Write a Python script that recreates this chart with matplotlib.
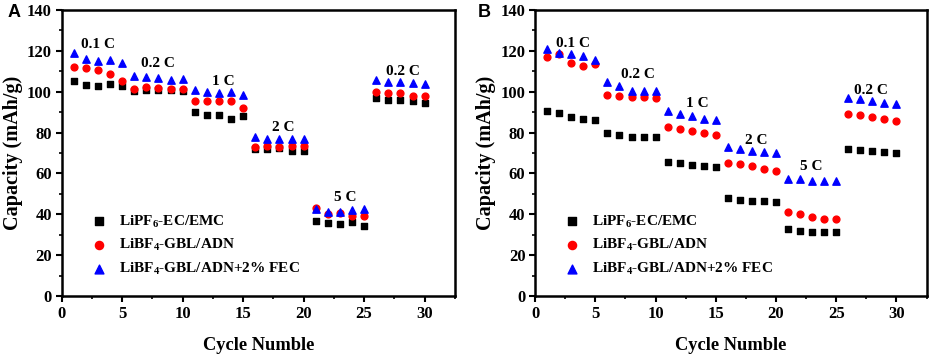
import numpy as np
import matplotlib
matplotlib.use('Agg')
import matplotlib.pyplot as plt
from matplotlib.ticker import MultipleLocator

plt.rcParams['font.family'] = ['Liberation Serif', 'DejaVu Serif']
plt.rcParams['font.weight'] = 'bold'
plt.rcParams['mathtext.fontset'] = 'custom'
plt.rcParams['mathtext.rm'] = 'Liberation Serif:bold'
plt.rcParams['mathtext.it'] = 'Liberation Serif:bold'
plt.rcParams['mathtext.bf'] = 'Liberation Serif:bold'

cycles = np.arange(1, 31)

# panel A
a_pf6 = [105.3, 103.2, 103.0, 104.0, 103.0,
         100.5, 100.8, 100.8, 100.6, 100.4,
         89.9, 88.6, 88.6, 86.8, 88.0,
         71.8, 71.8, 72.6, 71.1, 71.0,
         36.9, 35.9, 35.4, 36.4, 34.3,
         96.8, 95.8, 95.8, 95.6, 94.5]
a_bf4 = [112.0, 111.5, 110.8, 108.5, 105.0,
         101.3, 102.2, 102.0, 101.2, 101.2,
         95.4, 95.3, 95.3, 95.3, 92.0,
         73.1, 73.4, 73.1, 73.4, 73.4,
         43.1, 40.1, 40.5, 39.3, 39.0,
         99.9, 99.2, 99.2, 98.0, 97.7]
a_fec = [118.8, 116.0, 115.2, 115.7, 113.8,
         107.8, 107.2, 106.9, 105.7, 106.1,
         100.8, 99.7, 99.5, 99.7, 98.4,
         78.0, 76.7, 76.8, 76.7, 76.7,
         42.4, 41.1, 41.0, 42.2, 42.6,
         105.7, 104.7, 104.6, 104.1, 103.8]

# panel B
b_pf6 = [90.6, 89.4, 87.5, 86.5, 86.1,
         80.0, 79.0, 77.7, 77.7, 77.7,
         65.7, 65.2, 64.3, 63.8, 63.3,
         47.8, 47.0, 46.6, 46.3, 46.0,
         33.0, 32.0, 31.5, 31.3, 31.5,
         71.8, 71.3, 70.9, 70.4, 70.1]
b_bf4 = [117.2, 118.3, 114.2, 112.6, 113.4,
         98.5, 97.9, 97.6, 97.3, 96.9,
         82.6, 81.9, 80.9, 79.9, 78.8,
         65.2, 64.6, 63.6, 62.3, 61.3,
         41.1, 40.0, 38.5, 37.5, 37.5,
         89.1, 88.4, 87.6, 86.5, 85.5]
b_fec = [120.7, 118.8, 118.5, 117.6, 115.5,
         104.7, 102.8, 100.3, 100.3, 100.3,
         90.7, 88.9, 88.1, 86.8, 86.1,
         73.1, 72.1, 71.0, 70.3, 69.8,
         57.4, 57.1, 56.4, 56.1, 56.1,
         97.0, 96.2, 95.4, 94.7, 94.2]

labels = [r'LiPF$_6$-EC/EMC', r'LiBF$_4$-GBL/ADN', r'LiBF$_4$-GBL/ADN+2% FEC']

rate_text = ['0.1 C', '0.2 C', '1 C', '2 C', '5 C', '0.2 C']
a_rate_x = [3.0, 8.0, 13.4, 18.3, 23.4, 28.2]
a_rate_y = [122.9, 113.9, 105.2, 82.4, 48.3, 109.8]
b_rate_x = [3.1, 8.5, 13.5, 18.4, 22.9, 27.9]
b_rate_y = [123.7, 108.2, 94.3, 76.0, 63.3, 100.5]

fig = plt.figure(figsize=(9.34, 3.56), dpi=100)
axA = fig.add_axes([0.066, 0.1685, 0.421, 0.8035])
axB = fig.add_axes([0.573, 0.1685, 0.419, 0.8035])


def draw_panel(ax, s1, s2, s3, rx, ry):
    ax.scatter(cycles, s1, marker='s', s=20, color='black', label=labels[0], zorder=3)
    ax.scatter(cycles, s2, marker='o', s=24, color='red', label=labels[1], zorder=4)
    ax.scatter(cycles, s3, marker='^', s=28, color='blue', label=labels[2], zorder=5)
    for t, x, y in zip(rate_text, rx, ry):
        ax.text(x, y, t, ha='center', va='center', fontsize=11, fontweight='bold')

    ax.set_xlim(0, 32.5)
    ax.set_ylim(0, 140)
    ax.xaxis.set_major_locator(MultipleLocator(5))
    ax.xaxis.set_minor_locator(MultipleLocator(2.5))
    ax.yaxis.set_major_locator(MultipleLocator(20))
    ax.yaxis.set_minor_locator(MultipleLocator(10))
    ax.tick_params(which='major', direction='out', length=4, width=1.5, labelsize=12, pad=3)
    ax.tick_params(which='minor', direction='out', length=2.5, width=1.2)
    for lab in ax.get_xticklabels() + ax.get_yticklabels():
        lab.set_fontweight('bold')
    for sp in ax.spines.values():
        sp.set_linewidth(1.8)

    ax.set_xlabel('Cycle Numble', fontsize=13.3, fontweight='bold', labelpad=11)
    ax.set_ylabel('Capacity (mAh/g)', fontsize=14.5, fontweight='bold', labelpad=3)

    ax.legend(loc='upper left', bbox_to_anchor=(0.04, 0.31), frameon=False,
              fontsize=11, handletextpad=0.3, labelspacing=0.5,
              scatterpoints=1, borderaxespad=0, markerscale=1.2)


draw_panel(axA, a_pf6, a_bf4, a_fec, a_rate_x, a_rate_y)
draw_panel(axB, b_pf6, b_bf4, b_fec, b_rate_x, b_rate_y)

fig.text(0.008, 0.965, 'A', fontsize=13, fontweight='bold', family='Liberation Sans', va='center')
fig.text(0.512, 0.965, 'B', fontsize=13, fontweight='bold', family='Liberation Sans', va='center')

fig.savefig('out.png', dpi=100)
